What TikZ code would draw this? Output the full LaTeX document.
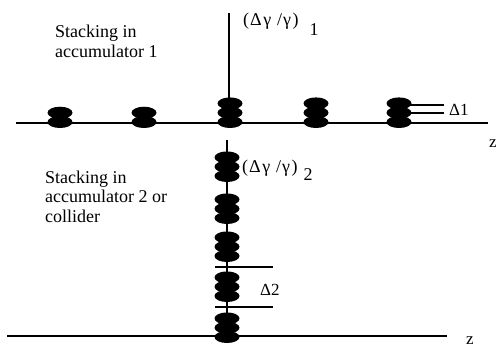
\documentclass[tikz,border=0pt]{standalone}
\usepackage{fontspec}
\setmainfont{Liberation Serif}
\newfontfamily\timesfont{Liberation Serif}
\begin{document}
\begin{tikzpicture}[x=1bp,y=-1bp]
\tikzset{
  axisline/.style={line width=1.8bp},
  stemline/.style={line width=1.5bp},
  tickline/.style={line width=1.5bp},
  lbl/.style={font=\timesfont\fontsize{18bp}{19.5bp}\selectfont, inner sep=0pt, anchor=base west, align=left},
  sml/.style={lbl, font=\timesfont\fontsize{17bp}{18bp}\selectfont},
  pics/bunch/.style={code={\foreach \k in {1,...,#1}{\fill (0,{-(\k-1)*9.3}) ellipse [x radius=12.5bp, y radius=6bp];}}}
}
\newcommand\dgg{(\hspace{1bp}Δ\hspace{1.5bp}γ\hspace{6bp}/\hspace{1bp}γ\hspace{1.5bp})}
\useasboundingbox (0,0) rectangle (498,347);
% coordinates
\coordinate (a1l) at (16,123);
\coordinate (a1r) at (488,123);
\coordinate (s1t) at (229,13);
\coordinate (s1b) at (229,100);
\coordinate (s2t) at (227,140);
\coordinate (s2b) at (227,336);
\coordinate (a2l) at (7,336);
\coordinate (a2r) at (447,336);
\coordinate (d1al) at (410,105);
\coordinate (d1ar) at (444,105);
\coordinate (d1bl) at (410,113);
\coordinate (d1br) at (444,113);
\coordinate (d2al) at (215,267);
\coordinate (d2ar) at (273,267);
\coordinate (d2bl) at (215,307);
\coordinate (d2br) at (273,307);
% lines
\draw[axisline] (a1l) -- (a1r);
\draw[stemline] (s1t) -- (s1b);
\draw[stemline] (s2t) -- (s2b);
\draw[axisline] (a2l) -- (a2r);
\draw[tickline] (d1al) -- (d1ar);
\draw[tickline] (d1bl) -- (d1br);
\draw[tickline] (d2al) -- (d2ar);
\draw[tickline] (d2bl) -- (d2br);
% bunches top row
\pic at (60,122) {bunch=2};
\pic at (144,122) {bunch=2};
\pic at (230,122) {bunch=3};
\pic at (316,122) {bunch=3};
\pic at (399,122) {bunch=3};
% bunches vertical
\pic at (227,176) {bunch=3};
\pic at (227,218) {bunch=3};
\pic at (227,256) {bunch=3};
\pic at (227,296) {bunch=3};
\pic at (227,337) {bunch=3};
% labels
\node[lbl] (t1) at (55,57) {Stacking in\\accumulator 1};
\node[lbl] (t2) at (45,222) {Stacking in\\accumulator 2 or\\collider};
\node[lbl] (g1) at (243,25) {\dgg\hspace{11bp}\raisebox{-10bp}{1}};
\node[lbl] (g2) at (242,172) {\dgg\hspace{6bp}\raisebox{-8bp}{2}};
\node[sml] (l1) at (449,115) {Δ1};
\node[sml] (l2) at (260,295) {Δ2};
\node[sml] (z1) at (489,147) {z};
\node[sml] (z2) at (466,344) {z};
\end{tikzpicture}
\end{document}
